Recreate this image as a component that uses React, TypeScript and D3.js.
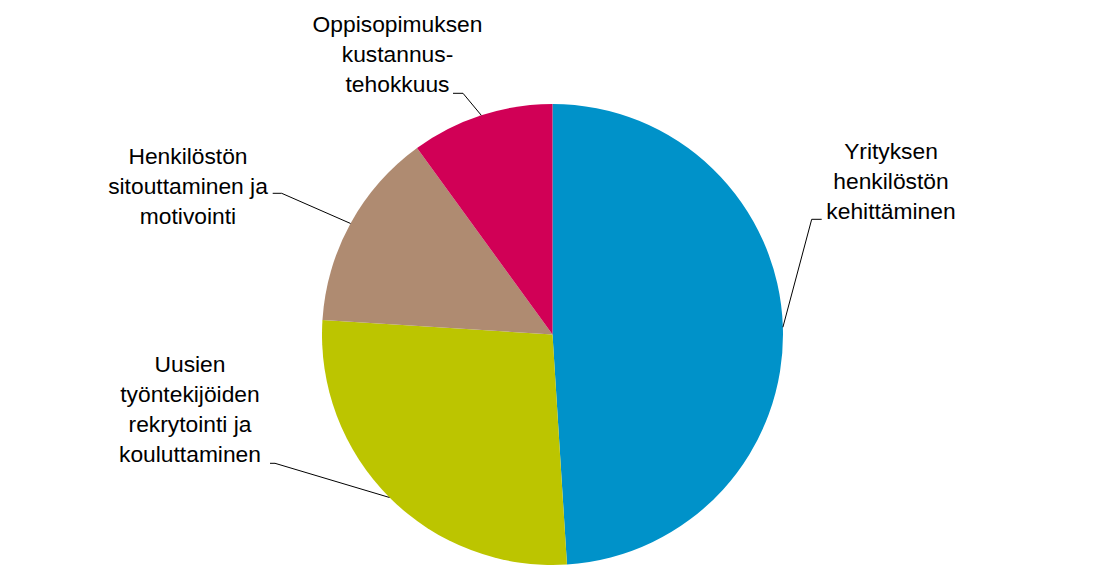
import React from "react";
import * as d3 from "d3";

const categories = [
  "Yrityksen henkilöstön kehittäminen",
  "Uusien työntekijöiden rekrytointi ja kouluttaminen",
  "Henkilöstön sitouttaminen ja motivointi",
  "Oppisopimuksen kustannustehokkuus",
];
const values = [49, 27, 14, 10];
const colors = ["#0092C9", "#BCC500", "#AF8B71", "#D10056"];
const labelLines = [
  ["Yrityksen", "henkilöstön", "kehittäminen"],
  ["Uusien", "työntekijöiden", "rekrytointi ja", "kouluttaminen"],
  ["Henkilöstön", "sitouttaminen ja", "motivointi"],
  ["Oppisopimuksen", "kustannus-", "tehokkuus"],
];

// layout: label block centre x, first baseline y, elbow point, elbow direction
const labelLayout = [
  { cx: 891, y0: 158.5, ex: 811.7, ey: 219.3, hx: 821.7 },
  { cx: 190, y0: 371.5, ex: 275, ey: 463.3, hx: 270 },
  { cx: 188, y0: 163.5, ex: 281.7, ey: 193.3, hx: 272.7 },
  { cx: 397.5, y0: 31.7, ex: 463, ey: 93.3, hx: 453 },
];

const W = 1101;
const H = 582;
const CX = 552.5;
const CY = 334.5;
const R = 230.5;
const LINE_H = 30;

export default function App() {
  const pie = d3
    .pie<number>()
    .sort(null)
    .startAngle(0)
    .endAngle(2 * Math.PI)
    .value((d) => d);
  const arcs = pie(values);
  const arc = d3.arc<d3.PieArcDatum<number>>().innerRadius(0).outerRadius(R);

  return (
    <svg
      width={W}
      height={H}
      style={{ position: "absolute", left: 0, top: 0, background: "#fff" }}
    >
      <g transform={`translate(${CX},${CY})`}>
        {arcs.map((a, i) => (
          <path key={categories[i]} d={arc(a) || ""} fill={colors[i]} />
        ))}
      </g>
      {arcs.map((a, i) => {
        const mid = (a.startAngle + a.endAngle) / 2;
        const px = CX + R * Math.sin(mid);
        const py = CY - R * Math.cos(mid);
        const L = labelLayout[i];
        return (
          <g key={"l" + i}>
            <polyline
              points={`${px},${py} ${L.ex},${L.ey} ${L.hx},${L.ey}`}
              fill="none"
              stroke="#000"
              strokeWidth={1}
            />
            <text
              fontFamily="'Liberation Sans', Arial, sans-serif"
              fontSize={22.8}
              fill="#000"
              textAnchor="middle"
            >
              {labelLines[i].map((t, j) => (
                <tspan key={j} x={L.cx} y={L.y0 + j * LINE_H}>
                  {t}
                </tspan>
              ))}
            </text>
          </g>
        );
      })}
    </svg>
  );
}
